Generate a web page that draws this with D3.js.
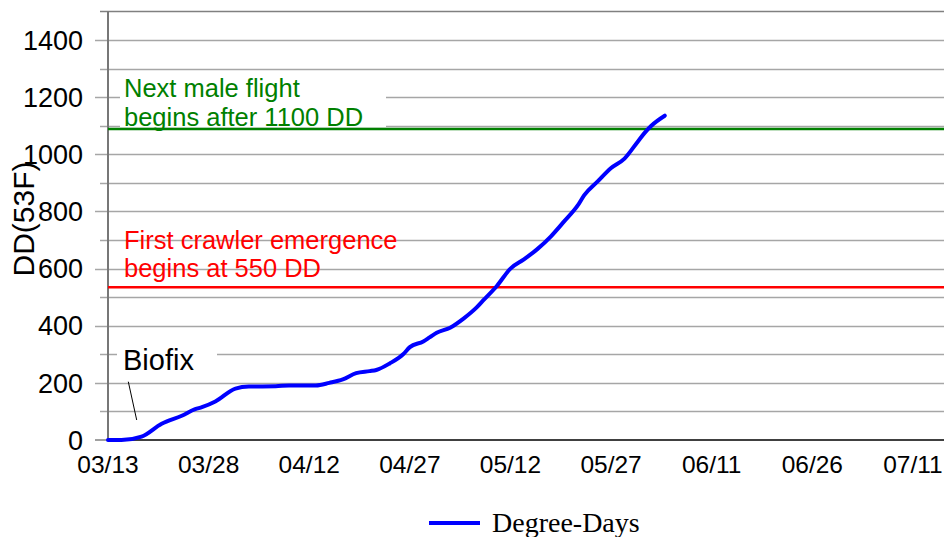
<!DOCTYPE html>
<html>
<head>
<meta charset="utf-8">
<script src="https://cdn.jsdelivr.net/npm/d3@7"></script>
<style>
  html, body { margin: 0; padding: 0; background: #fff; }
  svg { display: block; }
  text { font-family: "Liberation Sans", Arial, sans-serif; }
</style>
</head>
<body>
<svg id="chart" width="944" height="537"></svg>
<script>
// ---- data ----
const dates = ["03/13","03/15","03/18","03/21","03/24","03/26","03/27","03/29","04/01","04/03","04/07","04/09","04/13","04/15","04/17","04/19","04/21","04/22","04/24","04/26","04/27","04/29","04/30","05/01","05/03","05/05","05/07","05/08","05/10","05/12","05/14","05/16","05/18","05/20","05/22","05/23","05/25","05/27","05/29","05/31","06/01","06/02","06/04"];
const degreeDays = [0,0,12,57,85,108,115,135,180,187,188,191,191,200,212,234,241,245,268,300,325,345,360,375,393,425,465,490,540,600,632,668,712,765,820,857,905,952,985,1045,1075,1100,1135];
const xTickLabels = ["03/13","03/28","04/12","04/27","05/12","05/27","06/11","06/26","07/11"];
const yTickLabels = [0,200,400,600,800,1000,1200,1400];
const gridValues = [100,200,300,400,500,600,700,800,900,1000,1100,1200,1300,1400];
const crawlerThreshold = 535;
const maleFlightThreshold = 1088;
const year = 2021;

const parse = s => d3.timeParse("%Y/%m/%d")(year + "/" + s);

const svg = d3.select("#chart");
const x = d3.scaleTime()
  .domain([parse("03/13"), parse("07/16")])
  .range([108, 946.5]);
const y = d3.scaleLinear().domain([0, 1500]).range([440, 11.4]);

// gridlines (with tick stubs to the left of the axis)
svg.append("g").selectAll("line").data(gridValues).join("line")
  .attr("x1", d => (d % 200 === 0) ? 95 : 100)
  .attr("x2", 944)
  .attr("y1", d => Math.round(y(d)) + 0.5)
  .attr("y2", d => Math.round(y(d)) + 0.5)
  .attr("stroke", "#a6a6a6").attr("stroke-width", 1.5);

// top border
svg.append("line")
  .attr("x1", 100).attr("x2", 944)
  .attr("y1", y(1500)).attr("y2", y(1500))
  .attr("stroke", "#808080").attr("stroke-width", 1.5);

// zero tick
svg.append("line").attr("x1", 95).attr("x2", 108)
  .attr("y1", y(0)).attr("y2", y(0))
  .attr("stroke", "#808080").attr("stroke-width", 1.5);

// y axis line
svg.append("line")
  .attr("x1", 108).attr("x2", 108)
  .attr("y1", y(1500)).attr("y2", y(0))
  .attr("stroke", "#777").attr("stroke-width", 2);

// y tick labels
svg.append("g").selectAll("text").data(yTickLabels).join("text")
  .attr("x", 83).attr("y", d => y(d))
  .attr("dy", "0.36em")
  .attr("text-anchor", "end")
  .attr("font-size", 27)
  .attr("fill", "#000")
  .text(d => d);

// y axis title
svg.append("text")
  .attr("transform", "translate(34,219) rotate(-90)")
  .attr("text-anchor", "middle")
  .attr("font-size", 30)
  .attr("fill", "#000")
  .text("DD(53F)");

// x axis line
svg.append("line")
  .attr("x1", 108).attr("x2", 944)
  .attr("y1", y(0)).attr("y2", y(0))
  .attr("stroke", "#000").attr("stroke-width", 1.5);

// x tick labels
svg.append("g").selectAll("text").data(xTickLabels).join("text")
  .attr("x", d => x(parse(d)))
  .attr("y", 473)
  .attr("text-anchor", "middle")
  .attr("font-size", 24.5)
  .attr("fill", "#000")
  .text(d => d);

// Green annotation with white box
svg.append("rect").attr("x", 120).attr("y", 72).attr("width", 266).attr("height", 55).attr("fill", "#fff");
const gLab = svg.append("text").attr("font-size", 25.5).attr("fill", "#008000");
gLab.append("tspan").attr("x", 124).attr("y", 97).text("Next male flight");
gLab.append("tspan").attr("x", 124).attr("y", 126).text("begins after 1100 DD");

// threshold lines
svg.append("line")
  .attr("x1", 108).attr("x2", 944)
  .attr("y1", y(maleFlightThreshold)).attr("y2", y(maleFlightThreshold))
  .attr("stroke", "#008000").attr("stroke-width", 2.5);
svg.append("line")
  .attr("x1", 108).attr("x2", 944)
  .attr("y1", y(crawlerThreshold)).attr("y2", y(crawlerThreshold))
  .attr("stroke", "#ff0000").attr("stroke-width", 2.5);

// Red annotation (no box)
const rLab = svg.append("text").attr("font-size", 25.5).attr("fill", "#ff0000");
rLab.append("tspan").attr("x", 124).attr("y", 249).text("First crawler emergence");
rLab.append("tspan").attr("x", 124).attr("y", 277).text("begins at 550 DD");

// Biofix annotation
svg.append("rect").attr("x", 117).attr("y", 342).attr("width", 100).attr("height", 30).attr("fill", "#fff");
svg.append("text").attr("x", 123).attr("y", 370).attr("font-size", 29).attr("fill", "#000").text("Biofix");
svg.append("line").attr("x1", 128.3).attr("y1", 381.7).attr("x2", 136.7).attr("y2", 420)
  .attr("stroke", "#000").attr("stroke-width", 1);

// data line
const series = dates.map((d, i) => ({ date: parse(d), v: degreeDays[i] }));
svg.append("path").datum(series)
  .attr("fill", "none")
  .attr("stroke", "#0000ff")
  .attr("stroke-width", 4)
  .attr("stroke-linejoin", "round")
  .attr("stroke-linecap", "round")
  .attr("d", d3.line().x(d => x(d.date)).y(d => y(d.v)).curve(d3.curveMonotoneX));

// legend
svg.append("line").attr("x1", 429).attr("x2", 480).attr("y1", 523).attr("y2", 523)
  .attr("stroke", "#0000ff").attr("stroke-width", 4);
svg.append("text").attr("x", 492).attr("y", 532)
  .style("font-family", "'Liberation Serif', 'Times New Roman', serif")
  .attr("font-size", 28).attr("fill", "#000").text("Degree-Days");
</script>
</body>
</html>
